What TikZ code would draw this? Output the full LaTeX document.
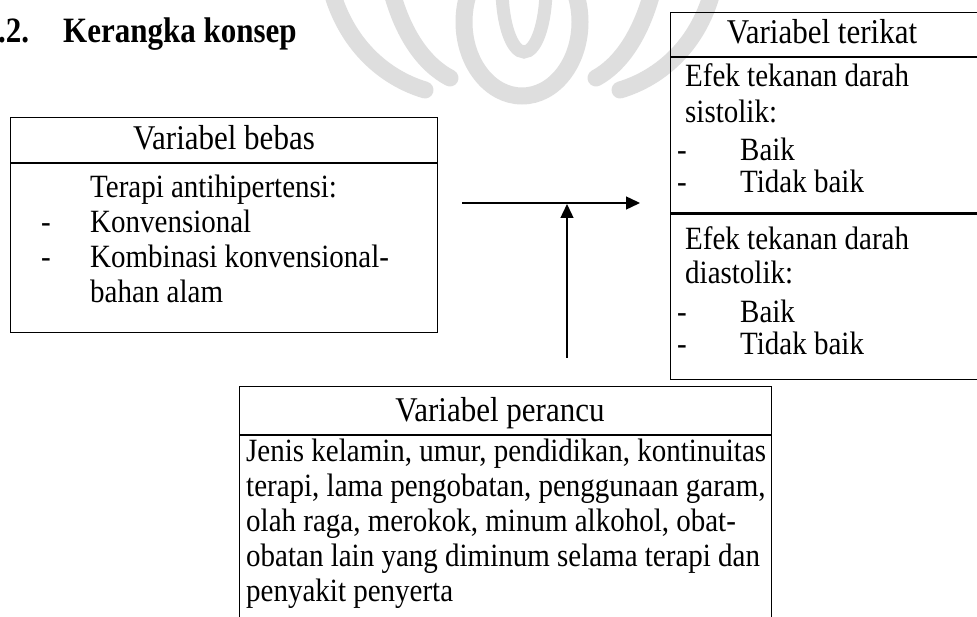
\documentclass[tikz,border=0pt]{standalone}
\usepackage{fontspec}
\setmainfont{Liberation Serif}
\usetikzlibrary{arrows.meta}
\begin{document}
\begin{tikzpicture}[x=1pt,y=-1pt,
  frame/.style={draw=black,line width=1.4pt,anchor=north west,inner sep=0pt},
  rule/.style={line width=1.4pt},
  thickrule/.style={line width=3pt},
  head/.style={font=\fontsize{31}{36}\selectfont,anchor=base,yscale=1.12},
  body/.style={font=\fontsize{29}{35}\selectfont,anchor=base west,inner sep=0pt,yscale=1.12},
  conn/.style={line width=1.4pt,-{Triangle[length=14pt,width=13pt]}},
  emblem/.style={draw=black!13,line width=17pt,line cap=round}
]
\useasboundingbox (0,0) rectangle (977,617);
\clip (0,0) rectangle (977,617);
\fill[white] (0,0) rectangle (977,617);

% faint emblem in the page background
\begin{scope}[emblem]
  \draw (522,22) ellipse [x radius=58,y radius=74];
  \draw[line width=13pt] (524,-12) ellipse [x radius=22,y radius=64];
  \draw (330,-15) .. controls (345,45) and (385,78) .. (425,90);
  \draw (390,-15) .. controls (402,35) and (425,65) .. (450,78);
  \draw (714,-15) .. controls (700,45) and (660,78) .. (620,90);
  \draw (654,-15) .. controls (642,35) and (620,65) .. (596,78);
\end{scope}

% heading
\node[font=\bfseries\fontsize{31}{36}\selectfont,anchor=base west,inner sep=0pt,yscale=1.15] (num) at (-2,43) {.2.};
\node[font=\bfseries\fontsize{31}{36}\selectfont,anchor=base west,inner sep=0pt,yscale=1.15] (title) at (63,43) {Kerangka konsep};

% independent variable
\node[frame,minimum width=427pt,minimum height=215pt] (bebas) at (10,117) {};
\draw[rule] (10,163) -- (437,163);
\node[head] (bebasH) at (224,150) {Variabel bebas};
\node[body] (b1) at (90,198) {Terapi antihipertensi:};
\node[body] (b2d) at (41,233) {-};
\node[body] (b2) at (90,233) {Konvensional};
\node[body] (b3d) at (41,268) {-};
\node[body] (b3) at (90,268) {Kombinasi konvensional-};
\node[body] (b4) at (90,303) {bahan alam};

% dependent variable
\node[frame,minimum width=330pt,minimum height=367pt] (terikat) at (670,12) {};
\draw[rule] (670,57) -- (1000,57);
\draw[thickrule] (670,214) -- (1000,214);
\node[head] (terikatH) at (822,44) {Variabel terikat};
\node[body] (t1) at (685,87) {Efek tekanan darah};
\node[body] (t2) at (685,123) {sistolik:};
\node[body] (t3d) at (677,161) {-};
\node[body] (t3) at (740,161) {Baik};
\node[body] (t4d) at (677,193) {-};
\node[body] (t4) at (740,193) {Tidak baik};
\node[body] (t5) at (685,250) {Efek tekanan darah};
\node[body] (t6) at (685,284) {diastolik:};
\node[body] (t7d) at (677,323) {-};
\node[body] (t7) at (740,323) {Baik};
\node[body] (t8d) at (677,355) {-};
\node[body] (t8) at (740,355) {Tidak baik};

% confounding variables
\node[frame,minimum width=532pt,minimum height=260pt] (perancu) at (239,386) {};
\draw[rule] (239,435) -- (771,435);
\node[head] (perancuH) at (500,421) {Variabel perancu};
\node[body] (p1) at (246,461) {Jenis kelamin, umur, pendidikan, kontinuitas};
\node[body] (p2) at (246,496) {terapi, lama pengobatan, penggunaan garam,};
\node[body] (p3) at (246,531) {olah raga, merokok, minum alkohol, obat-};
\node[body] (p4) at (246,566) {obatan lain yang diminum selama terapi dan};
\node[body] (p5) at (246,601) {penyakit penyerta};

% connectors
\coordinate (hs) at (462,203);
\coordinate (he) at (640,203);
\coordinate (vs) at (567,358);
\coordinate (ve) at (567,204);
\draw[conn] (hs) -- (he);
\draw[conn] (vs) -- (ve);
\end{tikzpicture}
\end{document}
